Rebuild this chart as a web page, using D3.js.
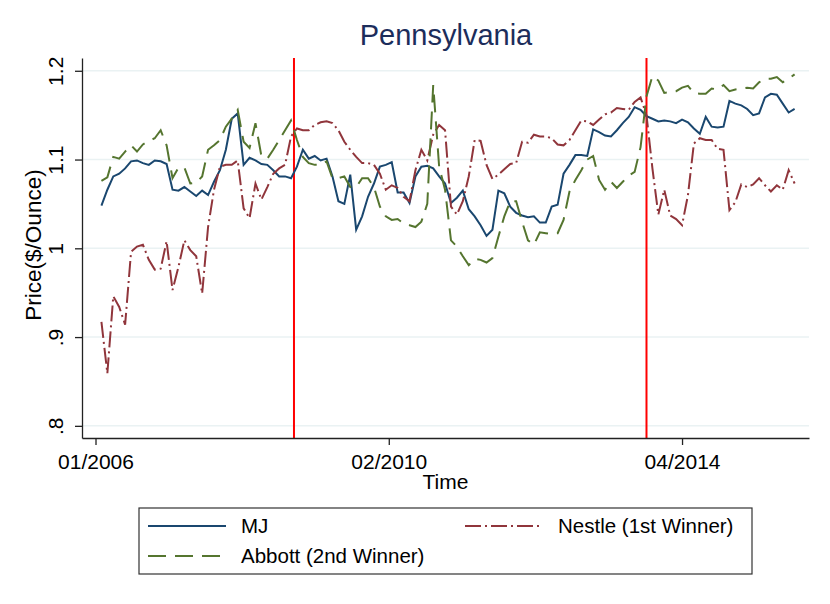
<!DOCTYPE html>
<html>
<head>
<meta charset="utf-8">
<script src="https://cdn.jsdelivr.net/npm/d3@7"></script>
<style>
	body { margin: 0; background: #fff; }
	svg text { font-family: "Liberation Sans", Arial, sans-serif; fill: #000; }
</style>
</head>
<body>
<div id="chart"></div>
<script>
// Month index: 0 = 01/2006 (Stata %tm offset), data runs 02/2006 .. 11/2015
const firstMonth = 1;

const mj = [
	1.048, 1.066, 1.081, 1.084, 1.090, 1.098, 1.099, 1.096, 1.094, 1.099,
	1.098, 1.095, 1.066, 1.065, 1.069, 1.064, 1.059, 1.065, 1.060, 1.075,
	1.088, 1.111, 1.146, 1.152, 1.094, 1.102, 1.099, 1.095, 1.094, 1.088,
	1.081, 1.081, 1.079, 1.092, 1.111, 1.101, 1.104, 1.099, 1.101, 1.081,
	1.053, 1.050, 1.083, 1.021, 1.036, 1.058, 1.073, 1.092, 1.094, 1.097,
	1.063, 1.063, 1.051, 1.081, 1.092, 1.093, 1.090, 1.081, 1.073, 1.051,
	1.057, 1.065, 1.044, 1.036, 1.026, 1.014, 1.021, 1.065, 1.062, 1.047,
	1.040, 1.037, 1.035, 1.036, 1.029, 1.029, 1.047, 1.049, 1.084, 1.094,
	1.105, 1.105, 1.104, 1.134, 1.131, 1.127, 1.126, 1.133, 1.141, 1.148,
	1.159, 1.156, 1.149, 1.146, 1.143, 1.144, 1.143, 1.141, 1.145, 1.142,
	1.135, 1.129, 1.148, 1.137, 1.136, 1.137, 1.166, 1.163, 1.161, 1.157,
	1.150, 1.152, 1.170, 1.174, 1.173, 1.163, 1.153, 1.157
];

const nestle = [
	0.917, 0.859, 0.946, 0.934, 0.914, 0.996, 1.002, 1.004, 0.987, 0.976,
	0.977, 1.008, 0.953, 0.979, 1.009, 0.998, 0.991, 0.949, 1.024, 1.066,
	1.092, 1.094, 1.094, 1.099, 1.045, 1.034, 1.073, 1.055, 1.069, 1.084,
	1.090, 1.094, 1.126, 1.135, 1.133, 1.133, 1.139, 1.142, 1.143, 1.141,
	1.133, 1.120, 1.111, 1.103, 1.096, 1.096, 1.094, 1.084, 1.066, 1.071,
	1.068, 1.058, 1.053, 1.088, 1.111, 1.099, 1.128, 1.139, 1.133, 1.047,
	1.038, 1.053, 1.081, 1.122, 1.121, 1.094, 1.078, 1.083, 1.089, 1.095,
	1.096, 1.120, 1.119, 1.128, 1.126, 1.126, 1.124, 1.117, 1.116, 1.122,
	1.133, 1.144, 1.143, 1.139, 1.145, 1.151, 1.153, 1.158, 1.157, 1.156,
	1.165, 1.170, 1.150, 1.090, 1.038, 1.066, 1.037, 1.033, 1.026, 1.060,
	1.118, 1.124, 1.122, 1.122, 1.112, 1.111, 1.043, 1.052, 1.072, 1.069,
	1.072, 1.079, 1.071, 1.064, 1.071, 1.066, 1.088, 1.073
];

const abbott = [
	1.076, 1.080, 1.103, 1.101, 1.109, 1.116, 1.109, 1.117, 1.121, 1.124,
	1.133, 1.116, 1.079, 1.091, 1.091, 1.073, 1.074, 1.081, 1.111, 1.116,
	1.122, 1.137, 1.146, 1.156, 1.120, 1.113, 1.141, 1.104, 1.101, 1.111,
	1.122, 1.133, 1.144, 1.122, 1.103, 1.096, 1.094, 1.094, 1.098, 1.079,
	1.079, 1.081, 1.069, 1.069, 1.079, 1.079, 1.069, 1.047, 1.036, 1.032,
	1.033, 1.028, 1.026, 1.024, 1.030, 1.050, 1.184, 1.092, 1.066, 1.009,
	1.002, 0.991, 0.981, 0.988, 0.987, 0.984, 0.989, 1.013, 1.036, 1.053,
	1.053, 1.030, 1.009, 1.004, 1.018, 1.017, 1.016, 1.017, 1.032, 1.064,
	1.077, 1.088, 1.100, 1.104, 1.077, 1.066, 1.075, 1.068, 1.075, 1.082,
	1.086, 1.114, 1.171, 1.194, 1.189, 1.175, 1.176, 1.177, 1.181, 1.183,
	1.175, 1.174, 1.174, 1.180, 1.179, 1.184, 1.177, 1.179, 1.180, 1.181,
	1.180, 1.187, 1.191, 1.191, 1.193, 1.187, 1.191, 1.196
];

const yTicks = [0.8, 0.9, 1.0, 1.1, 1.2];
const yTickLabels = [".8", ".9", "1", "1.1", "1.2"];
const xTicks = [0, 49.5, 99];               // month index of each label
const xTickLabels = ["01/2006", "02/2010", "04/2014"];
const eventMonths = [33.5, 93];             // red vertical lines

const series = [
	{ name: "MJ", values: mj, color: "#1a476f", dash: null },
	{ name: "Nestle (1st Winner)", values: nestle, color: "#90353b", dash: "16,4,2,4" },
	{ name: "Abbott (2nd Winner)", values: abbott, color: "#55752f", dash: "18,9" }
];

const width = 830, height = 604;
const plot = { left: 82, right: 809, top: 58, bottom: 438 };

const svg = d3.select("#chart").append("svg")
	.attr("width", width).attr("height", height);

const x = d3.scaleLinear([-2.28, 120.43], [plot.left, plot.right]);
const y = d3.scaleLinear([0.7863, 1.2144], [plot.bottom, plot.top]);

// Gridlines
svg.append("g").selectAll("line")
	.data(yTicks)
	.join("line")
	.attr("x1", plot.left).attr("x2", plot.right)
	.attr("y1", (d) => y(d)).attr("y2", (d) => y(d))
	.attr("stroke", "#eaf2f3").attr("stroke-width", 1.5);

// Event lines
svg.append("g").selectAll("line")
	.data(eventMonths)
	.join("line")
	.attr("x1", (d) => x(d)).attr("x2", (d) => x(d))
	.attr("y1", plot.top).attr("y2", plot.bottom)
	.attr("stroke", "#ff0000").attr("stroke-width", 2);

// Series
const line = d3.line()
	.x((d, i) => x(firstMonth + i))
	.y((d) => y(d));

svg.append("g").selectAll("path")
	.data(series)
	.join("path")
	.attr("d", (s) => line(s.values))
	.attr("fill", "none")
	.attr("stroke", (s) => s.color)
	.attr("stroke-width", 2)
	.attr("stroke-dasharray", (s) => s.dash);

// Axes
const axisY = svg.append("g")
	.attr("transform", `translate(${plot.left},0)`)
	.call(d3.axisLeft(y).tickValues(yTicks)
		.tickFormat((d, i) => yTickLabels[i]).tickSize(7).tickSizeOuter(0));
axisY.selectAll("text")
	.attr("transform", "rotate(-90)")
	.attr("x", 0).attr("y", -19).attr("dy", 0)
	.attr("text-anchor", "middle")
	.style("font-size", "21px");

const axisX = svg.append("g")
	.attr("transform", `translate(0,${plot.bottom})`)
	.call(d3.axisBottom(x).tickValues(xTicks)
		.tickFormat((d, i) => xTickLabels[i]).tickSize(7).tickSizeOuter(0));
axisX.selectAll("text")
	.attr("y", 31).attr("dy", 0)
	.style("font-size", "21px");

svg.selectAll(".domain, .tick line")
	.attr("stroke", "#222").attr("stroke-width", 1.3);
svg.selectAll(".tick text").attr("fill", "#000");

// Labels
svg.append("text")
	.attr("x", 446).attr("y", 45)
	.attr("text-anchor", "middle")
	.style("font-size", "29px").style("fill", "#1c2d5b")
	.text("Pennsylvania");

svg.append("text")
	.attr("x", (plot.left + plot.right) / 2).attr("y", 489)
	.attr("text-anchor", "middle")
	.style("font-size", "21px")
	.text("Time");

svg.append("text")
	.attr("transform", "translate(41,245)rotate(-90)")
	.attr("text-anchor", "middle")
	.style("font-size", "22.5px")
	.text("Price($/Ounce)");

// Legend
const legend = svg.append("g");
legend.append("rect")
	.attr("x", 139).attr("y", 508).attr("width", 613).attr("height", 66)
	.attr("fill", "#fff").attr("stroke", "#333").attr("stroke-width", 1.2);

const slots = [
	{ x: 148, y: 526 },
	{ x: 465, y: 526 },
	{ x: 148, y: 556 }
];

const items = legend.selectAll("g.item")
	.data(series)
	.join("g")
	.classed("item", true)
	.attr("transform", (d, i) => `translate(${slots[i].x},${slots[i].y})`);

items.append("line")
	.attr("x1", 0).attr("x2", 78)
	.attr("stroke", (s) => s.color).attr("stroke-width", 2)
	.attr("stroke-dasharray", (s) => s.dash);

items.append("text")
	.attr("x", 93).attr("dy", "0.35em")
	.style("font-size", "20.5px")
	.text((s) => s.name);
</script>
</body>
</html>
